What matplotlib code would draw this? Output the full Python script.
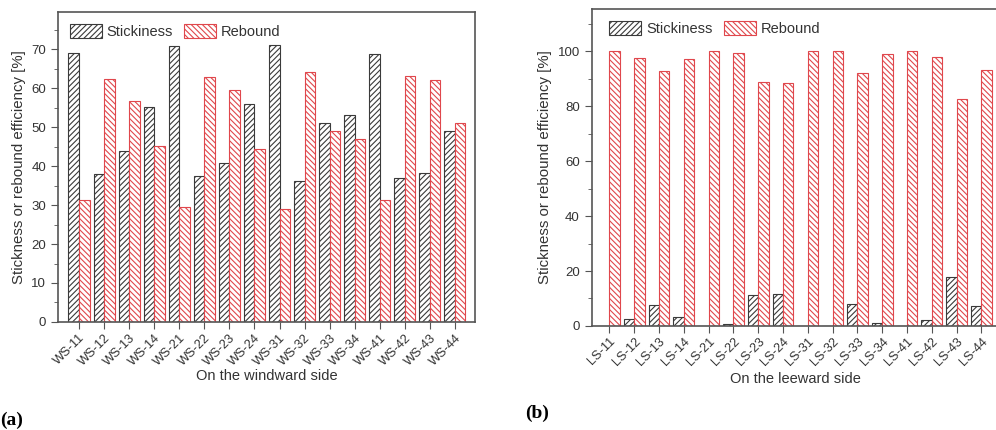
import numpy as np
import matplotlib
matplotlib.use('Agg')
import matplotlib.pyplot as plt
from matplotlib.ticker import MultipleLocator

# data
ws_labels = ['WS-11', 'WS-12', 'WS-13', 'WS-14', 'WS-21', 'WS-22', 'WS-23', 'WS-24',
             'WS-31', 'WS-32', 'WS-33', 'WS-34', 'WS-41', 'WS-42', 'WS-43', 'WS-44']
ws_stick = [69.0, 37.9, 43.8, 55.1, 70.7, 37.4, 40.9, 56.0,
            71.1, 36.2, 51.1, 53.2, 68.8, 36.9, 38.2, 49.1]
ws_rebound = [31.3, 62.3, 56.6, 45.1, 29.5, 62.8, 59.4, 44.3,
              29.1, 64.0, 49.1, 46.9, 31.4, 63.2, 62.0, 51.1]

ls_labels = ['LS-11', 'LS-12', 'LS-13', 'LS-14', 'LS-21', 'LS-22', 'LS-23', 'LS-24',
             'LS-31', 'LS-32', 'LS-33', 'LS-34', 'LS-41', 'LS-42', 'LS-43', 'LS-44']
ls_stick = [0.0, 2.5, 7.6, 3.2, 0.0, 0.7, 11.4, 11.8,
            0.0, 0.0, 8.1, 1.2, 0.0, 2.3, 17.7, 7.3]
ls_rebound = [100.0, 97.6, 92.7, 97.1, 100.0, 99.4, 88.8, 88.5,
              100.0, 100.0, 92.2, 98.8, 100.0, 97.9, 82.5, 93.1]

plt.rcParams['font.family'] = ['Liberation Sans', 'DejaVu Sans']
plt.rcParams['hatch.linewidth'] = 0.8
text_col = '#333333'
spine_col = '#555555'
stick_col = '#3a3a3a'
reb_col = '#e0474c'
w = 0.42

fig = plt.figure(figsize=(9.96, 4.30), dpi=100)
ax1 = fig.add_axes([0.0582, 0.2512, 0.4187, 0.7208])
ax2 = fig.add_axes([0.594, 0.2419, 0.410, 0.7371])


def draw(ax, labels, stick, reb, ymax, major, minor, xlabel, lpad, leg_x):
    x = np.arange(len(labels))
    ax.bar(x - w / 2, stick, width=w, facecolor='white', edgecolor=stick_col,
           hatch='//////', linewidth=0.8, label='Stickiness')
    ax.bar(x + w / 2, reb, width=w, facecolor='white', edgecolor=reb_col,
           hatch='\\\\\\\\\\\\', linewidth=0.8, label='Rebound')
    ax.set_ylim(0, ymax)
    ax.set_xticks(x)
    ax.set_xticklabels(labels, rotation=45, ha='right', rotation_mode='anchor',
                       fontsize=9.2, color=text_col)
    ax.yaxis.set_major_locator(MultipleLocator(major))
    ax.yaxis.set_minor_locator(MultipleLocator(minor))
    ax.tick_params(axis='both', which='major', direction='out', length=5,
                   color=spine_col, labelcolor=text_col)
    ax.tick_params(axis='y', labelsize=9.5)
    ax.tick_params(axis='x', pad=2)
    ax.tick_params(axis='y', which='minor', direction='out', length=3, color=spine_col)
    ax.tick_params(top=False, right=False)
    for s in ax.spines.values():
        s.set_color(spine_col)
        s.set_linewidth(1.2)
    ax.set_ylabel('Stickness or rebound efficiency [%]', fontsize=10.8, color=text_col)
    ax.set_xlabel(xlabel, fontsize=10.5, color=text_col, labelpad=lpad)
    ax.legend(loc='upper left', bbox_to_anchor=(leg_x, 1.0), ncol=2, frameon=False,
              fontsize=10.5, handlelength=2.2, handleheight=1.1, handletextpad=0.3,
              columnspacing=0.8, borderaxespad=0.4, labelcolor=text_col)


draw(ax1, ws_labels, ws_stick, ws_rebound, 79.5, 10, 5, 'On the windward side', 1, 0.0)
draw(ax2, ls_labels, ls_stick, ls_rebound, 115.3, 20, 10, 'On the leeward side', 3, 0.015)
ax1.set_xlim(-0.84, 15.8)
ax2.set_xlim(-0.72, 15.75)

fig.text(0.0, 0.012, '(a)', fontsize=14, fontweight='bold', family='Liberation Serif')
fig.text(0.527, 0.028, '(b)', fontsize=14, fontweight='bold', family='Liberation Serif')

fig.savefig('out.png', dpi=100)
